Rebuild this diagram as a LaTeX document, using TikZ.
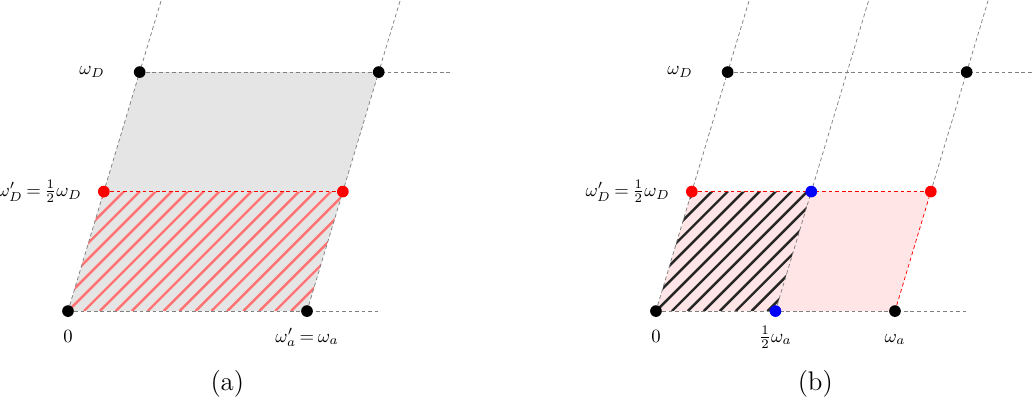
\documentclass[tikz,border=0pt]{standalone}
\usepackage{amsmath}
\usepackage{tikz}
\usetikzlibrary{positioning}
\usetikzlibrary{backgrounds}

\begin{document}
\begin{tikzpicture}

  \tikzset{dot/.style = {shape=circle,fill=black,inner sep=0pt,minimum size=0.22cm}}
  \tikzset{reddot/.style = {dot,fill=red}}
  \tikzset{bluedot/.style = {dot,fill=blue}}
  \tikzset{grid/.style = {gray,dash pattern=on 2pt off 1.5pt}}
  \tikzset{redgrid/.style = {red,dash pattern=on 2pt off 1.5pt}}
  \tikzset{hatch/.style = {line width=1.3pt}}
  \tikzset{caption/.style = {font=\Large}}
  \useasboundingbox (-1.28,-1.714) rectangle (18.15,5.857);

  % (a)
  \node[dot] (o1) at (0,0) {};
  \node[dot] (wa1) at (4.5,0) {};
  \node[dot] (wd1) at (1.35,4.5) {};
  \node[dot] (wad1) at (5.85,4.5) {};
  \node[reddot] (h1) at (0.675,2.25) {};
  \node[reddot] (ha1) at (5.175,2.25) {};
  \coordinate (top1) at (1.755,5.85);
  \coordinate (topa1) at (6.255,5.85);
  \coordinate (right1) at (7.2,4.5);
  \coordinate (end1) at (5.85,0);
  % labels
  \node[below=0.467cm of o1, anchor=base] (lo1) {$0$};
  \node[below=0.467cm of wa1, anchor=base] (lwa1) {$\omega'_a\mkern-1.5mu=\mkern-1.5mu\omega_a$};
  \node[left=0.42cm of wd1] (lwd1) {$\omega_D$};
  \node[left=0.26cm of h1, inner sep=1pt] (lh1) {$\omega'_D\mkern-1.5mu=\mkern-1.5mu\frac{1}{2}\omega_D$};
  \node[caption] (cap1) at (3.0,-1.36) {(a)};
  \begin{scope}[on background layer]
    \fill[black!10] (o1.center) -- (wa1.center) -- (wad1.center) -- (wd1.center) -- cycle;
    \begin{scope}
      \clip (o1.center) -- (wa1.center) -- (ha1.center) -- (h1.center) -- cycle;
      \foreach \x in {-3,-2.7,...,5.4}
        \draw[hatch,red!55] (\x,0) -- ++(6,6);
    \end{scope}
    %edges
    \draw[grid] (o1) -- (end1);
    \draw[grid] (o1) -- (top1);
    \draw[grid] (wa1) -- (topa1);
    \draw[grid] (wd1) -- (right1);
    \draw[redgrid] (h1) -- (ha1);
  \end{scope}

  % (b)
  \begin{scope}[xshift=11.07cm]
    \node[dot] (o2) at (0,0) {};
    \node[dot] (wa2) at (4.5,0) {};
    \node[dot] (wd2) at (1.35,4.5) {};
    \node[dot] (wad2) at (5.85,4.5) {};
    \node[reddot] (h2) at (0.675,2.25) {};
    \node[reddot] (ha2) at (5.175,2.25) {};
    \node[bluedot] (hb2) at (2.25,0) {};
    \node[bluedot] (ht2) at (2.925,2.25) {};
    \coordinate (top2) at (1.755,5.85);
    \coordinate (topm2) at (4.005,5.85);
    \coordinate (topa2) at (6.255,5.85);
    \coordinate (right2) at (7.2,4.5);
    \coordinate (end2) at (5.85,0);
    % labels
    \node[below=0.467cm of o2, anchor=base] (lo2) {$0$};
    \node[below=0.467cm of hb2, anchor=base] (lhb2) {$\frac{1}{2}\omega_a$};
    \node[below=0.467cm of wa2, anchor=base] (lwa2) {$\omega_a$};
    \node[left=0.42cm of wd2] (lwd2) {$\omega_D$};
    \node[left=0.26cm of h2, inner sep=1pt] (lh2) {$\omega'_D\mkern-1.5mu=\mkern-1.5mu\frac{1}{2}\omega_D$};
    \node[caption] (cap2) at (3.0,-1.36) {(b)};
    \begin{scope}[on background layer]
      \fill[red!10] (o2.center) -- (wa2.center) -- (ha2.center) -- (h2.center) -- cycle;
      \begin{scope}
        \clip (o2.center) -- (hb2.center) -- (ht2.center) -- (h2.center) -- cycle;
        \foreach \x in {-3,-2.7,...,3}
          \draw[hatch,black!85] (\x,0) -- ++(6,6);
      \end{scope}
      %edges
      \draw[grid] (o2) -- (end2);
      \draw[grid] (o2) -- (top2);
      \draw[grid] (hb2) -- (topm2);
      \draw[grid] (ha2) -- (topa2);
      \draw[grid] (wd2) -- (right2);
      \draw[redgrid] (wa2) -- (ha2);
      \draw[redgrid] (h2) -- (ha2);
    \end{scope}
  \end{scope}

\end{tikzpicture}
\end{document}
